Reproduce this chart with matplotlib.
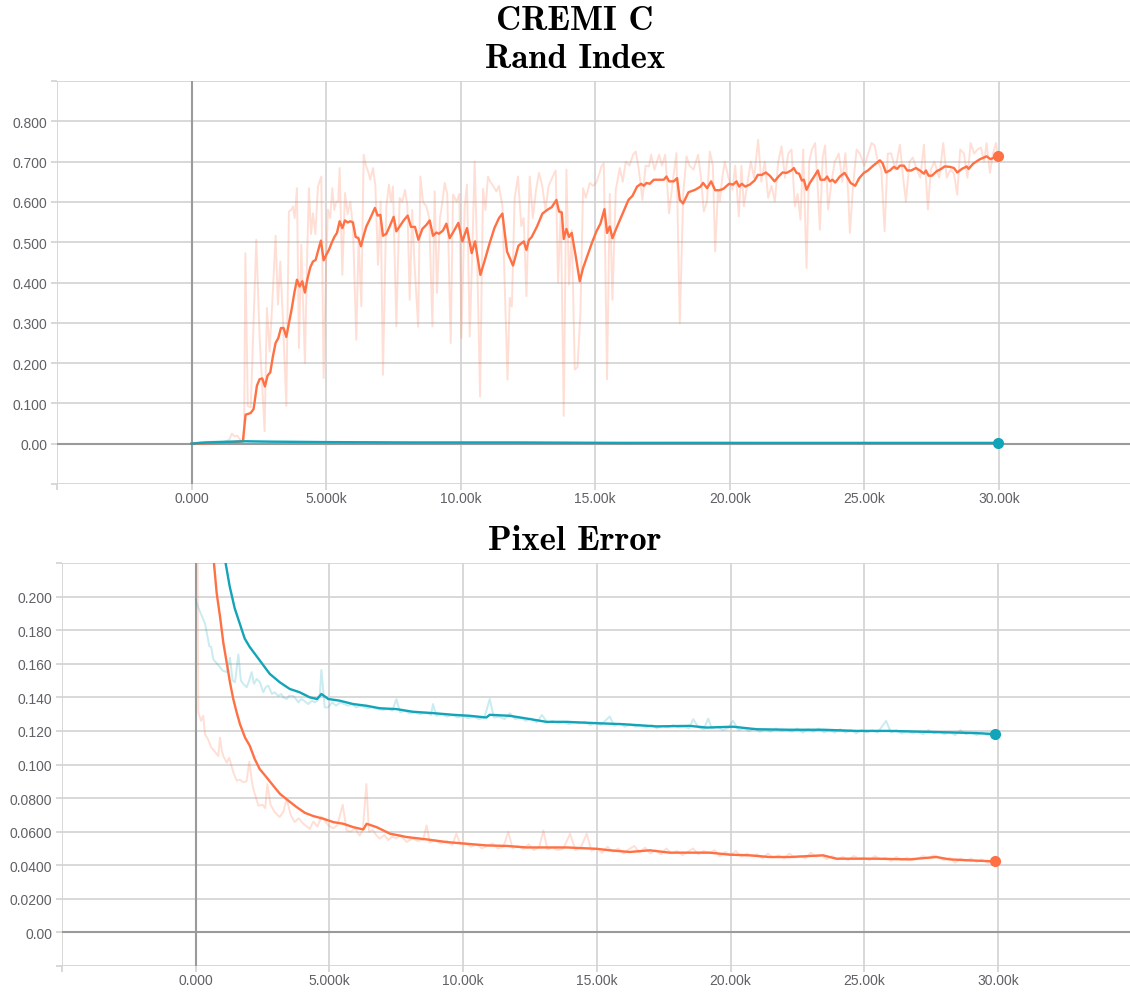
import matplotlib
matplotlib.use("Agg")
import matplotlib.pyplot as plt

# ---------------- data (step, value) ----------------
RI_ORANGE_RAW = [
    (0, 0.000), (300, 0.001), (600, 0.002), (900, 0.002), (1200, 0.004), (1400, 0.010), (1500, 0.025),
    (1600, 0.018), (1700, 0.020), (1850, 0.006), (1950, 0.008), (2000, 0.473), (2090, 0.093), (2200, 0.090),
    (2405, 0.506), (2528, 0.266), (2714, 0.031), (2800, 0.337), (2900, 0.229), (3000, 0.350), (3123, 0.516),
    (3209, 0.345), (3297, 0.452), (3400, 0.300), (3520, 0.094), (3617, 0.576), (3700, 0.580), (3767, 0.589),
    (3830, 0.560), (3916, 0.634), (3990, 0.237), (4078, 0.494), (4212, 0.200), (4300, 0.480), (4361, 0.634),
    (4440, 0.520), (4510, 0.572), (4600, 0.520), (4697, 0.638), (4820, 0.663), (4907, 0.163), (5000, 0.450),
    (5067, 0.581), (5150, 0.560), (5230, 0.634), (5300, 0.580), (5379, 0.601), (5450, 0.600), (5502, 0.684),
    (5602, 0.419), (5700, 0.622), (5800, 0.570), (5900, 0.600), (5996, 0.539), (6121, 0.258), (6208, 0.514),
    (6308, 0.341), (6394, 0.717), (6480, 0.690), (6556, 0.676), (6642, 0.655), (6741, 0.684), (6830, 0.640),
    (6928, 0.444), (7026, 0.601), (7112, 0.171), (7237, 0.589), (7335, 0.643), (7410, 0.600), (7484, 0.638),
    (7609, 0.291), (7732, 0.610), (7830, 0.600), (7930, 0.630), (8020, 0.590), (8105, 0.357), (8200, 0.580),
    (8280, 0.450), (8420, 0.290), (8501, 0.663), (8600, 0.600), (8725, 0.589), (8830, 0.560), (8950, 0.291),
    (9033, 0.626), (9119, 0.374), (9230, 0.560), (9320, 0.600), (9405, 0.647), (9500, 0.620), (9630, 0.250),
    (9715, 0.618), (9850, 0.600), (9950, 0.620), (10026, 0.262), (10149, 0.589), (10234, 0.643), (10335, 0.266),
    (10420, 0.450), (10520, 0.700), (10600, 0.500), (10720, 0.117), (10830, 0.632), (10920, 0.580), (11015, 0.663),
    (11100, 0.650), (11200, 0.640), (11327, 0.626), (11420, 0.640), (11550, 0.590), (11740, 0.159), (11822, 0.362),
    (11900, 0.340), (12006, 0.610), (12129, 0.663), (12250, 0.540), (12340, 0.560), (12442, 0.366), (12565, 0.663),
    (12680, 0.560), (12800, 0.630), (12911, 0.672), (13030, 0.640), (13150, 0.580), (13270, 0.640), (13400, 0.660),
    (13531, 0.678), (13618, 0.399), (13720, 0.580), (13829, 0.069), (13929, 0.680), (14026, 0.395), (14130, 0.530),
    (14238, 0.184), (14340, 0.190), (14449, 0.324), (14548, 0.634), (14650, 0.610), (14796, 0.647), (14920, 0.640),
    (15045, 0.648), (15150, 0.670), (15230, 0.688), (15318, 0.696), (15439, 0.160), (15540, 0.620), (15639, 0.357),
    (15762, 0.630), (15911, 0.684), (16020, 0.650), (16134, 0.700), (16270, 0.690), (16405, 0.717), (16506, 0.725),
    (16620, 0.680), (16754, 0.605), (16870, 0.690), (16999, 0.688), (17076, 0.717), (17200, 0.680), (17372, 0.717),
    (17480, 0.690), (17600, 0.717), (17743, 0.572), (17880, 0.650), (18017, 0.721), (18141, 0.299), (18270, 0.620),
    (18389, 0.713), (18500, 0.690), (18650, 0.680), (18822, 0.717), (18930, 0.660), (19033, 0.576), (19150, 0.600),
    (19257, 0.725), (19370, 0.690), (19455, 0.477), (19560, 0.630), (19628, 0.601), (19720, 0.660), (19814, 0.700),
    (19950, 0.660), (20100, 0.630), (20200, 0.690), (20335, 0.564), (20430, 0.690), (20520, 0.589), (20640, 0.640),
    (20780, 0.700), (20900, 0.660), (21053, 0.754), (21170, 0.650), (21300, 0.700), (21425, 0.610), (21550, 0.640),
    (21673, 0.601), (21800, 0.700), (21921, 0.738), (22050, 0.660), (22170, 0.720), (22293, 0.730), (22416, 0.589),
    (22520, 0.620), (22627, 0.556), (22726, 0.730), (22851, 0.436), (22950, 0.700), (23050, 0.730), (23171, 0.746),
    (23280, 0.620), (23346, 0.531), (23450, 0.710), (23540, 0.740), (23653, 0.581), (23780, 0.650), (23900, 0.700),
    (24050, 0.720), (24180, 0.650), (24294, 0.721), (24400, 0.620), (24461, 0.523), (24580, 0.640), (24710, 0.730),
    (24830, 0.720), (25000, 0.690), (25266, 0.746), (25380, 0.740), (25500, 0.700), (25630, 0.680), (25751, 0.527),
    (25870, 0.720), (26000, 0.720), (26150, 0.680), (26320, 0.742), (26440, 0.660), (26543, 0.601), (26680, 0.700),
    (26800, 0.710), (26950, 0.680), (27080, 0.660), (27212, 0.742), (27361, 0.581), (27470, 0.680), (27600, 0.700),
    (27780, 0.660), (27931, 0.746), (28060, 0.660), (28200, 0.680), (28330, 0.670), (28450, 0.618), (28560, 0.730),
    (28700, 0.720), (28830, 0.660), (28947, 0.746), (29080, 0.720), (29200, 0.730), (29330, 0.735), (29450, 0.700),
    (29542, 0.746), (29665, 0.672), (29780, 0.720), (29888, 0.746), (29960, 0.715),
]

RI_ORANGE_SMOOTH = [
    (0, 0.000), (1410, 0.003), (1907, 0.006), (2007, 0.072), (2193, 0.076), (2305, 0.086), (2428, 0.144),
    (2528, 0.160), (2628, 0.162), (2725, 0.142), (2825, 0.169), (2925, 0.177), (3023, 0.217), (3123, 0.250),
    (3223, 0.262), (3320, 0.287), (3420, 0.287), (3520, 0.265), (3617, 0.299), (3717, 0.333), (3818, 0.374),
    (3916, 0.407), (4015, 0.390), (4115, 0.403), (4212, 0.375), (4312, 0.411), (4413, 0.438), (4510, 0.452),
    (4610, 0.456), (4710, 0.481), (4807, 0.504), (4907, 0.455), (5007, 0.469), (5104, 0.481), (5204, 0.498),
    (5305, 0.513), (5402, 0.523), (5502, 0.552), (5602, 0.535), (5700, 0.554), (5799, 0.549), (5900, 0.552),
    (5996, 0.549), (6097, 0.513), (6197, 0.510), (6294, 0.490), (6394, 0.516), (6494, 0.539), (6617, 0.556),
    (6717, 0.571), (6814, 0.585), (6914, 0.566), (7015, 0.568), (7112, 0.516), (7237, 0.521), (7360, 0.539),
    (7509, 0.563), (7609, 0.527), (7732, 0.539), (7881, 0.554), (8030, 0.566), (8153, 0.538), (8302, 0.538),
    (8428, 0.506), (8576, 0.533), (8725, 0.543), (8848, 0.554), (8971, 0.516), (9096, 0.524), (9194, 0.521),
    (9343, 0.529), (9468, 0.546), (9591, 0.510), (9740, 0.527), (9914, 0.548), (10062, 0.502), (10234, 0.535),
    (10409, 0.473), (10533, 0.502), (10732, 0.419), (10881, 0.452), (11078, 0.498), (11253, 0.535), (11424, 0.560),
    (11550, 0.571), (11721, 0.477), (11944, 0.442), (12145, 0.491), (12342, 0.502), (12442, 0.481), (12540, 0.506),
    (12639, 0.513), (12836, 0.539), (13037, 0.571), (13234, 0.581), (13383, 0.587), (13558, 0.605), (13655, 0.576),
    (13755, 0.574), (13829, 0.508), (13929, 0.533), (14026, 0.513), (14126, 0.523), (14275, 0.465), (14424, 0.403),
    (14548, 0.436), (14721, 0.469), (14896, 0.502), (15045, 0.527), (15193, 0.546), (15342, 0.582), (15439, 0.523),
    (15539, 0.539), (15639, 0.510), (15788, 0.535), (15985, 0.566), (16234, 0.605), (16383, 0.615), (16554, 0.638),
    (16703, 0.645), (16803, 0.640), (16903, 0.647), (17026, 0.645), (17175, 0.655), (17372, 0.655), (17546, 0.655),
    (17646, 0.663), (17743, 0.651), (17918, 0.651), (18041, 0.659), (18141, 0.605), (18264, 0.596), (18464, 0.624),
    (18711, 0.630), (18911, 0.638), (19008, 0.647), (19157, 0.634), (19306, 0.651), (19455, 0.629), (19604, 0.629),
    (19752, 0.632), (19974, 0.645), (20123, 0.643), (20247, 0.651), (20346, 0.638), (20446, 0.645), (20570, 0.638),
    (20743, 0.643), (20918, 0.653), (21041, 0.667), (21190, 0.667), (21338, 0.673), (21487, 0.665), (21662, 0.651),
    (21810, 0.663), (21959, 0.673), (22108, 0.672), (22282, 0.678), (22379, 0.684), (22479, 0.672), (22576, 0.670),
    (22677, 0.653), (22751, 0.655), (22851, 0.630), (22974, 0.647), (23123, 0.662), (23271, 0.678), (23372, 0.655),
    (23520, 0.655), (23617, 0.663), (23717, 0.651), (23818, 0.655), (23916, 0.648), (24089, 0.663), (24264, 0.672),
    (24387, 0.659), (24488, 0.647), (24659, 0.640), (24808, 0.659), (24983, 0.672), (25132, 0.678), (25329, 0.690),
    (25576, 0.703), (25677, 0.696), (25799, 0.673), (25948, 0.678), (26097, 0.687), (26220, 0.682), (26320, 0.690),
    (26468, 0.690), (26592, 0.678), (26741, 0.678), (26915, 0.684), (27063, 0.678), (27212, 0.670), (27286, 0.678),
    (27387, 0.665), (27509, 0.665), (27684, 0.676), (27857, 0.682), (27983, 0.688), (28180, 0.687), (28329, 0.684),
    (28452, 0.673), (28625, 0.682), (28800, 0.688), (28874, 0.682), (29045, 0.695), (29294, 0.706), (29542, 0.713),
    (29691, 0.706), (29960, 0.715),
]

RI_TEAL_RAW = [
    (0, 0.001), (300, 0.004), (700, 0.005), (1200, 0.006), (1800, 0.007), (2500, 0.005), (3500, 0.005),
    (5000, 0.004), (7000, 0.004), (9000, 0.003), (12000, 0.003), (15000, 0.002), (18000, 0.003),
    (21000, 0.002), (24000, 0.002), (27000, 0.002), (29960, 0.002),
]

RI_TEAL_SMOOTH = [
    (0, 0.000), (500, 0.003), (1000, 0.004), (1500, 0.005), (2000, 0.006), (3000, 0.005), (5000, 0.004),
    (8000, 0.003), (12000, 0.003), (16000, 0.002), (20000, 0.002), (25000, 0.002), (29960, 0.002),
]

PE_ORANGE_RAW = [
    (0, 0.500), (97, 0.131), (200, 0.126), (280, 0.129), (348, 0.118), (460, 0.115), (587, 0.110), (700, 0.108),
    (845, 0.105), (908, 0.116), (980, 0.108), (1033, 0.105), (1160, 0.101), (1250, 0.104), (1406, 0.0954),
    (1532, 0.0904), (1650, 0.0910), (1781, 0.0894), (1900, 0.0900), (2006, 0.1017), (2100, 0.0900),
    (2155, 0.0855), (2342, 0.0755), (2500, 0.0760), (2600, 0.0740), (2680, 0.0884), (2800, 0.0760),
    (2955, 0.0716), (3142, 0.0687), (3280, 0.0720), (3403, 0.0795), (3550, 0.0700), (3703, 0.0657),
    (3850, 0.0680), (4000, 0.0650), (4264, 0.0617), (4400, 0.0660), (4550, 0.0630), (4700, 0.0690),
    (4800, 0.0670), (4960, 0.0637), (5150, 0.0620), (5300, 0.0640), (5498, 0.0760), (5645, 0.0607),
    (5800, 0.0600), (5950, 0.0620), (6133, 0.0577), (6250, 0.0610), (6383, 0.0884), (6480, 0.0600),
    (6620, 0.0610), (6750, 0.0580), (6881, 0.0558), (7050, 0.0580), (7200, 0.0550), (7350, 0.0570),
    (7500, 0.0560), (7650, 0.0580), (7889, 0.0538), (8100, 0.0560), (8300, 0.0545), (8500, 0.0550),
    (8637, 0.0637), (8750, 0.0535), (8950, 0.0550), (9150, 0.0530), (9400, 0.0545), (9600, 0.0520),
    (9746, 0.0588), (9900, 0.0525), (10100, 0.0530), (10300, 0.0510), (10500, 0.0525), (10700, 0.0500),
    (10900, 0.0515), (11100, 0.0530), (11300, 0.0500), (11500, 0.0510), (11692, 0.0598), (11850, 0.0500),
    (12050, 0.0515), (12250, 0.0495), (12450, 0.0525), (12650, 0.0490), (12850, 0.0510), (13002, 0.0607),
    (13150, 0.0495), (13350, 0.0505), (13550, 0.0490), (13750, 0.0500), (14000, 0.0588), (14200, 0.0490),
    (14400, 0.0505), (14622, 0.0588), (14800, 0.0485), (15000, 0.0500), (15200, 0.0475), (15400, 0.0510),
    (15600, 0.0480), (15800, 0.0500), (16000, 0.0470), (16200, 0.0495), (16400, 0.0515), (16600, 0.0475),
    (16800, 0.0505), (17000, 0.0470), (17200, 0.0490), (17400, 0.0465), (17600, 0.0500), (17800, 0.0470),
    (18000, 0.0485), (18200, 0.0460), (18400, 0.0480), (18600, 0.0500), (18800, 0.0465), (19000, 0.0485),
    (19200, 0.0470), (19400, 0.0490), (19600, 0.0455), (19800, 0.0480), (20000, 0.0460), (20200, 0.0485),
    (20400, 0.0450), (20600, 0.0470), (20800, 0.0455), (21000, 0.0465), (21200, 0.0440), (21400, 0.0470),
    (21600, 0.0445), (21800, 0.0460), (22000, 0.0440), (22200, 0.0470), (22400, 0.0445), (22600, 0.0455),
    (22800, 0.0440), (23000, 0.0475), (23200, 0.0450), (23400, 0.0460), (23600, 0.0435), (23800, 0.0455),
    (24000, 0.0435), (24200, 0.0450), (24400, 0.0430), (24600, 0.0455), (24800, 0.0440), (25000, 0.0445),
    (25200, 0.0430), (25400, 0.0455), (25600, 0.0435), (25800, 0.0445), (26000, 0.0425), (26200, 0.0450),
    (26400, 0.0430), (26600, 0.0445), (26800, 0.0430), (27000, 0.0440), (27200, 0.0455), (27400, 0.0440),
    (27600, 0.0460), (27800, 0.0445), (28000, 0.0430), (28200, 0.0445), (28400, 0.0415), (28600, 0.0440),
    (28800, 0.0425), (29000, 0.0440), (29200, 0.0420), (29400, 0.0435), (29600, 0.0415), (29880, 0.0425),
]

PE_ORANGE_SMOOTH = [
    (0, 0.450), (400, 0.300), (684, 0.2196), (785, 0.202), (908, 0.1883), (1033, 0.1725), (1159, 0.1607),
    (1283, 0.1488), (1406, 0.1389), (1532, 0.1310), (1656, 0.1240), (1843, 0.1161), (2020, 0.1112),
    (2206, 0.1033), (2393, 0.0973), (2648, 0.0924), (2900, 0.0874), (3152, 0.0825), (3463, 0.0785),
    (3777, 0.0746), (4087, 0.0712), (4398, 0.0693), (4772, 0.0677), (5146, 0.0657), (5520, 0.0647),
    (5894, 0.0627), (6267, 0.0613), (6391, 0.0647), (6765, 0.0627), (7265, 0.0588), (7889, 0.0568),
    (8637, 0.0554), (9385, 0.0538), (10133, 0.0528), (10881, 0.0518), (11630, 0.0515), (12378, 0.0506),
    (13126, 0.0506), (13874, 0.0506), (14996, 0.0498), (15483, 0.0489), (16231, 0.0479), (16979, 0.0489),
    (17727, 0.0475), (19223, 0.0475), (19970, 0.0463), (20718, 0.0459), (21466, 0.0449), (22214, 0.0449),
    (23461, 0.0459), (23960, 0.0439), (24707, 0.0439), (25454, 0.0439), (26701, 0.0435), (27698, 0.0449),
    (28197, 0.0435), (28945, 0.0429), (29880, 0.0423),
]

PE_TEAL_RAW = [
    (0, 0.198), (134, 0.192), (348, 0.184), (508, 0.1705), (580, 0.170), (658, 0.1626), (800, 0.160),
    (908, 0.158), (1000, 0.156), (1157, 0.155), (1283, 0.1636), (1380, 0.150), (1470, 0.149), (1595, 0.1656),
    (1690, 0.150), (1781, 0.148), (1906, 0.146), (2000, 0.150), (2093, 0.155), (2180, 0.148), (2280, 0.151),
    (2400, 0.149), (2528, 0.143), (2620, 0.146), (2716, 0.147), (2850, 0.142), (2950, 0.143), (3089, 0.1408),
    (3200, 0.142), (3276, 0.140), (3400, 0.139), (3500, 0.141), (3650, 0.1408), (3750, 0.139), (3837, 0.137),
    (3950, 0.139), (4050, 0.138), (4211, 0.136), (4350, 0.138), (4450, 0.137), (4550, 0.138), (4638, 0.1408),
    (4700, 0.1563), (4825, 0.134), (4950, 0.134), (5100, 0.137), (5250, 0.135), (5400, 0.137), (5550, 0.136),
    (5700, 0.135), (5850, 0.136), (6000, 0.134), (6200, 0.135), (6400, 0.1335), (6600, 0.134), (6800, 0.133),
    (7000, 0.1325), (7200, 0.133), (7350, 0.132), (7504, 0.1389), (7650, 0.131), (7800, 0.132), (8000, 0.1305),
    (8200, 0.131), (8400, 0.130), (8600, 0.131), (8800, 0.1295), (8875, 0.136), (9000, 0.129), (9200, 0.130),
    (9400, 0.1285), (9600, 0.1295), (9800, 0.128), (10000, 0.129), (10200, 0.1275), (10400, 0.1285),
    (10600, 0.127), (10800, 0.128), (10995, 0.139), (11150, 0.128), (11350, 0.1285), (11550, 0.127),
    (11750, 0.1305), (11950, 0.127), (12150, 0.128), (12350, 0.126), (12550, 0.1275), (12750, 0.125),
    (12950, 0.1295), (13150, 0.125), (13350, 0.126), (13550, 0.1245), (13750, 0.1255), (13950, 0.124),
    (14150, 0.125), (14350, 0.1245), (14550, 0.1255), (14750, 0.1235), (14950, 0.125), (15150, 0.1235),
    (15483, 0.1286), (15650, 0.123), (15850, 0.1245), (16050, 0.1225), (16250, 0.124), (16450, 0.1225),
    (16650, 0.1235), (16850, 0.122), (17050, 0.1235), (17250, 0.1215), (17450, 0.123), (17650, 0.122),
    (17850, 0.1235), (18050, 0.122), (18250, 0.1225), (18450, 0.1215), (18607, 0.127), (18800, 0.122),
    (19000, 0.121), (19168, 0.1274), (19300, 0.1215), (19500, 0.1225), (19700, 0.1205), (19900, 0.1215),
    (20096, 0.126), (20300, 0.1205), (20500, 0.1215), (20700, 0.120), (20900, 0.1215), (21100, 0.1195),
    (21300, 0.121), (21500, 0.1195), (21700, 0.1215), (21900, 0.120), (22100, 0.1205), (22300, 0.1195),
    (22500, 0.1215), (22700, 0.119), (22900, 0.121), (23100, 0.1195), (23300, 0.1215), (23500, 0.119),
    (23700, 0.1205), (23900, 0.119), (24100, 0.121), (24300, 0.119), (24500, 0.1205), (24700, 0.1185),
    (24900, 0.1205), (25100, 0.119), (25300, 0.1205), (25500, 0.119), (25819, 0.126), (26000, 0.119),
    (26200, 0.1205), (26400, 0.1185), (26600, 0.120), (26800, 0.1185), (27000, 0.1195), (27200, 0.118),
    (27400, 0.1205), (27600, 0.1185), (27800, 0.1195), (28000, 0.118), (28200, 0.1195), (28400, 0.1175),
    (28600, 0.1205), (28800, 0.118), (29000, 0.119), (29200, 0.1175), (29400, 0.119), (29600, 0.1175),
    (29880, 0.118),
]

PE_TEAL_SMOOTH = [
    (0, 0.400), (500, 0.310), (800, 0.262), (1122, 0.2196), (1272, 0.206), (1459, 0.193), (1646, 0.184),
    (1833, 0.175), (2020, 0.170), (2394, 0.162), (2768, 0.154), (3142, 0.149), (3516, 0.145), (3890, 0.143),
    (4264, 0.140), (4539, 0.139), (4702, 0.142), (4960, 0.139), (5385, 0.138), (5884, 0.136), (6383, 0.135),
    (6881, 0.1335), (7504, 0.133), (8127, 0.1314), (8875, 0.1306), (9623, 0.1296), (10247, 0.129),
    (10871, 0.128), (10995, 0.1296), (11743, 0.129), (12366, 0.1274), (13114, 0.1254), (13862, 0.1254),
    (14996, 0.1246), (15982, 0.124), (17229, 0.1227), (18475, 0.123), (19099, 0.122), (20096, 0.1225),
    (20969, 0.121), (22215, 0.1207), (23461, 0.1207), (24707, 0.120), (25953, 0.120), (27200, 0.1195),
    (28446, 0.119), (29194, 0.1187), (29880, 0.1181),
]

X_TICKS = [-5000, 0, 5000, 10000, 15000, 20000, 25000, 30000]
X_LABELS = ["", "0.000", "5.000k", "10.00k", "15.00k", "20.00k", "25.00k", "30.00k"]
RI_Y_TICKS = [-0.1, 0.0, 0.1, 0.2, 0.3, 0.4, 0.5, 0.6, 0.7, 0.8, 0.9]
RI_Y_LABELS = ["", "0.00", "0.100", "0.200", "0.300", "0.400", "0.500", "0.600", "0.700", "0.800", ""]
PE_Y_TICKS = [-0.02, 0.0, 0.02, 0.04, 0.06, 0.08, 0.10, 0.12, 0.14, 0.16, 0.18, 0.20, 0.22]
PE_Y_LABELS = ["", "0.00", "0.0200", "0.0400", "0.0600", "0.0800", "0.100", "0.120", "0.140",
               "0.160", "0.180", "0.200", ""]

ORANGE = "#FF7043"
TEAL = "#12A4B8"
GRID = "#d2d2d2"
ZERO = "#9a9a9a"
LABEL = "#606066"

W, H = 1130, 995
fig = plt.figure(figsize=(W / 100, H / 100), dpi=100)


def unzip(pairs):
    return [p[0] for p in pairs], [p[1] for p in pairs]


def style(ax, xlim, ylim, yticks, ylabels):
    ax.set_xlim(*xlim)
    ax.set_ylim(*ylim)
    for s in ax.spines.values():
        s.set_visible(False)
    ax.set_xticks(X_TICKS)
    ax.set_xticklabels(X_LABELS)
    ax.set_yticks(yticks)
    ax.set_yticklabels(ylabels)
    ax.grid(True, color=GRID, linewidth=1.2, zorder=0)
    ax.set_axisbelow(True)
    ax.tick_params(axis="both", length=4, width=1.2, color=GRID, labelcolor=LABEL,
                   labelsize=10, pad=3)
    ax.tick_params(axis="x", pad=1)
    for lab in ax.get_xticklabels() + ax.get_yticklabels():
        lab.set_fontfamily("Liberation Sans")
    ax.axhline(0, color=ZERO, linewidth=1.5, zorder=1)
    ax.axvline(0, color=ZERO, linewidth=1.5, zorder=1)


def draw(ax, raw, smooth, color, z):
    xr, yr = unzip(raw)
    xs, ys = unzip(smooth)
    ax.plot(xr, yr, color=color, alpha=0.22, linewidth=1.4, zorder=z)
    ax.plot(xs, ys, color=color, linewidth=1.7, zorder=z + 2)
    ax.plot([xs[-1]], [ys[-1]], "o", color=color, markersize=7, zorder=z + 3)


# Top panel: Rand Index
ax1 = fig.add_axes([57 / W, 1 - 485 / H, (W - 57) / W, (485 - 82) / H])
style(ax1, (-5000, 34870), (-0.1, 0.9), RI_Y_TICKS, RI_Y_LABELS)
draw(ax1, RI_ORANGE_RAW, RI_ORANGE_SMOOTH, ORANGE, 2)
draw(ax1, RI_TEAL_RAW, RI_TEAL_SMOOTH, TEAL, 3)

# Bottom panel: Pixel Error
ax2 = fig.add_axes([62 / W, 1 - 967 / H, (W - 62) / W, (967 - 564) / H])
style(ax2, (-5000, 34940), (-0.02, 0.22), PE_Y_TICKS, PE_Y_LABELS)
draw(ax2, PE_ORANGE_RAW, PE_ORANGE_SMOOTH, ORANGE, 2)
draw(ax2, PE_TEAL_RAW, PE_TEAL_SMOOTH, TEAL, 3)

# Titles
TITLE_SIZE = 25
fig.text(575 / W, 1 - 22 / H, "CREMI C", ha="center", va="center", fontsize=TITLE_SIZE, fontfamily="cmb10")
fig.text(575 / W, 1 - 60 / H, "Rand Index", ha="center", va="center", fontsize=TITLE_SIZE, fontfamily="cmb10")
fig.text(575 / W, 1 - 541 / H, "Pixel Error", ha="center", va="center", fontsize=TITLE_SIZE, fontfamily="cmb10")

fig.savefig("out.png", dpi=100)
